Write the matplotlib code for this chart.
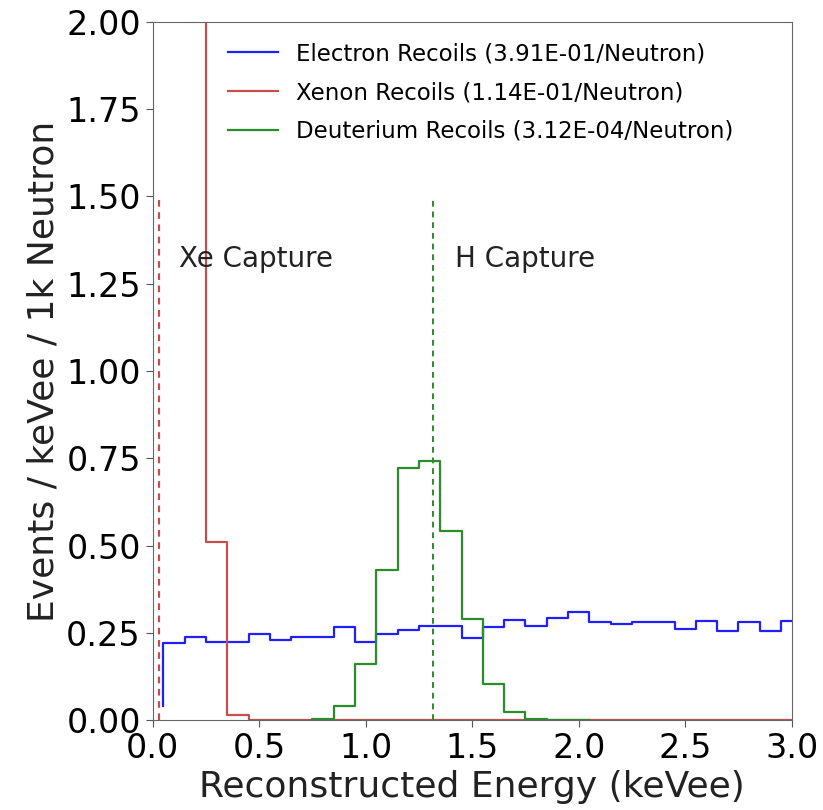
import numpy as np
import matplotlib
matplotlib.use('Agg')
import matplotlib.pyplot as plt

# bin centres (keVee), drawn as steps
blue_x = [0.05, 0.15, 0.25, 0.35, 0.45, 0.55, 0.65, 0.75, 0.85, 0.95, 1.05,
          1.15, 1.25, 1.35, 1.45, 1.55, 1.65, 1.75, 1.85, 1.95, 2.05, 2.15,
          2.25, 2.35, 2.45, 2.55, 2.65, 2.75, 2.85, 2.95, 3.05]
blue_y = [0.04, 0.220, 0.239, 0.223, 0.223, 0.248, 0.229, 0.239, 0.237, 0.266,
          0.224, 0.246, 0.258, 0.269, 0.269, 0.236, 0.267, 0.287, 0.269, 0.291,
          0.310, 0.282, 0.275, 0.281, 0.280, 0.261, 0.284, 0.256, 0.282, 0.254,
          0.285]

red_x = [0.05, 0.15, 0.25, 0.35, 0.45, 0.55, 3.05]
red_y = [6.0, 6.0, 6.0, 0.51, 0.016, 0.0, 0.0]

green_x = [0.75, 0.85, 0.95, 1.05, 1.15, 1.25, 1.35, 1.45, 1.55, 1.65, 1.75,
           1.85, 1.95, 2.05]
green_y = [0.0, 0.003, 0.040, 0.160, 0.430, 0.723, 0.743, 0.541, 0.290, 0.103,
           0.024, 0.002, 0.0, 0.0]

labels = ['Electron Recoils (3.91E-01/Neutron)',
          'Xenon Recoils (1.14E-01/Neutron)',
          'Deuterium Recoils (3.12E-04/Neutron)']

xe_capture = 0.03
h_capture = 1.316

blue = '#1f1fff'
red = '#c4504e'
green = '#2a8c2a'

plt.figure(figsize=(8.23, 8.1), dpi=100)
ax = plt.axes([0.1855, 0.111, 0.7765, 0.862])
ax.step(blue_x, blue_y, where='pre', color=blue, lw=1.6, label=labels[0])
ax.step(red_x, red_y, where='pre', color=red, lw=1.6, label=labels[1])
ax.step(green_x, green_y, where='pre', color=green, lw=1.6, label=labels[2])

ax.vlines(xe_capture, 0, 1.5, colors=red, linestyles=(0, (3, 2.5)), lw=1.6)
ax.vlines(h_capture, 0, 1.5, colors=green, linestyles=(0, (3, 2.5)), lw=1.4)
ax.text(0.125, 1.32, 'Xe Capture', fontsize=20, va='center', color='#222222')
ax.text(1.42, 1.32, 'H Capture', fontsize=20, va='center', color='#222222')

ax.set_xlim(0, 3.0)
ax.set_ylim(0, 2.0)
ax.set_xticks([0.0, 0.5, 1.0, 1.5, 2.0, 2.5, 3.0])
ax.set_yticks(np.arange(0, 2.01, 0.25))
ax.tick_params(labelsize=24, color='#555555', length=5)
for s in ax.spines.values():
    s.set_color('#666666')
ax.set_xlabel('Reconstructed Energy (keVee)', fontsize=26, color='#222222')
ax.set_ylabel('Events / keVee / 1k Neutron', fontsize=26, color='#222222')
ax.legend(loc='upper left', frameon=False, fontsize=16.5, handlelength=2.2,
          labelspacing=0.68, bbox_to_anchor=(0.085, 1.0))

plt.savefig('out.png', dpi=100)
